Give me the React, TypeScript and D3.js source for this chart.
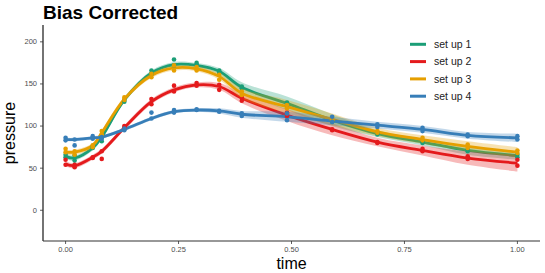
import * as d3 from "d3";

const W = 545, H = 273;
const m = { top: 25, right: 5, bottom: 32, left: 43 };

const times = [0, 0.02, 0.06, 0.08, 0.13, 0.19, 0.24, 0.29, 0.34, 0.39, 0.49, 0.59, 0.69, 0.79, 0.89, 1.0];
const seriesNames = ["set up 1", "set up 2", "set up 3", "set up 4"];
const colors = ["#1B9E77", "#E41A1C", "#E69F00", "#377EB8"];

// smoothed fit per series
const fit1 = [64, 62, 74, 87, 131, 163, 173, 172, 165, 146, 127, 107, 91, 81, 71, 65];
const fit2 = [55, 53, 63, 70, 98, 129, 143, 149, 147, 133, 113, 96, 81, 71, 62, 56];
const fit3 = [69, 69, 77, 92, 132, 160, 169, 168, 159, 139, 123, 108, 93, 84, 76, 69];
const fit4 = [84, 84, 86, 87, 96, 109, 117, 119, 118, 114, 111, 106, 101, 96, 89, 86];

// ribbon half widths
const se1 = [3, 3, 3, 3, 3, 3, 3, 3, 4, 6, 8, 7, 4, 4, 5, 5];
const se2 = [3, 3, 3, 3, 3, 3, 3, 3, 4, 6, 7, 7, 5, 6, 8, 10];
const se3 = [3, 3, 3, 3, 3, 3, 3, 3, 4, 6, 8, 7, 5, 5, 6, 6];
const se4 = [2, 2, 2, 2, 2, 2, 2, 2, 3, 4, 6, 5, 4, 4, 4, 5];

// observations (two replicates per time)
const obs1a = [66, 65, 76, 87, 131, 166, 179, 175, 166, 147, 128, 107, 92, 82, 72, 66];
const obs1b = [63, 59, 74, 82, 129, 162, 172, 173, 163, 145, 125, 105, 90, 80, 70, 63];
const obs2a = [60, 54, 63, 70, 100, 132, 148, 151, 149, 134, 116, 96, 81, 73, 64, 60];
const obs2b = [54, 51, 62, 61, 98, 126, 141, 148, 143, 130, 112, 95, 80, 70, 61, 53];
const obs3a = [73, 70, 77, 94, 134, 162, 172, 170, 161, 141, 125, 108, 94, 86, 78, 71];
const obs3b = [69, 66, 75, 90, 131, 158, 166, 166, 155, 137, 121, 107, 92, 83, 74, 68];
const obs4a = [86, 84, 88, 87, 97, 116, 119, 120, 118, 115, 115, 111, 102, 98, 90, 88];
const obs4b = [83, 77, 85, 85, 95, 109, 116, 119, 117, 112, 107, 105, 99, 94, 88, 84];

const fits = [fit1, fit2, fit3, fit4];
const ses = [se1, se2, se3, se4];
const obsA = [obs1a, obs2a, obs3a, obs4a];
const obsB = [obs1b, obs2b, obs3b, obs4b];

const xTicks = [0, 0.25, 0.5, 0.75, 1.0];
const yTicks = [0, 50, 100, 150, 200];

export default function App() {
  const iW = W - m.left - m.right;
  const iH = H - m.top - m.bottom;
  const x = d3.scaleLinear().domain([-0.05, 1.05]).range([0, iW]);
  const y = d3.scaleLinear().domain([-36.5, 220]).range([iH, 0]);

  const line = d3.line<number>().x((_, i) => x(times[i])).y(d => y(d)).curve(d3.curveCatmullRom);

  return (
    <svg width={W} height={H} style={{ position: "absolute", left: 0, top: 0, fontFamily: "Liberation Sans, Arial, sans-serif" }}>
      <rect width={W} height={H} fill="#fff" />
      <text x={43} y={19} fontSize={19} fontWeight="bold" fill="#000">Bias Corrected</text>
      <g transform={`translate(${m.left},${m.top})`}>
        {fits.map((f, s) => {
          const area = d3.area<number>()
            .x((_, i) => x(times[i]))
            .y0((d, i) => y(d - ses[s][i]))
            .y1((d, i) => y(d + ses[s][i]))
            .curve(d3.curveCatmullRom);
          return (
            <g key={s}>
              <path d={area(f) ?? ""} fill={colors[s]} opacity={0.3} />
              <path d={line(f) ?? ""} fill="none" stroke={colors[s]} strokeWidth={2.8} />
            </g>
          );
        })}
        {obsA.map((arr, s) => (
          <g key={"p" + s} fill={colors[s]}>
            {arr.map((v, i) => <circle key={"a" + i} cx={x(times[i])} cy={y(v)} r={2.3} />)}
            {obsB[s].map((v, i) => <circle key={"b" + i} cx={x(times[i])} cy={y(v)} r={2.3} />)}
          </g>
        ))}

        {/* axes */}
        <line x1={0} x2={0} y1={0} y2={iH} stroke="#000" strokeWidth={1.1} />
        <line x1={0} x2={iW} y1={iH} y2={iH} stroke="#333" strokeWidth={1.1} />
        {yTicks.map(t => (
          <g key={t} transform={`translate(0,${y(t)})`}>
            <line x1={-3} x2={0} stroke="#333" strokeWidth={0.8} />
            <text x={-6} dy="0.32em" textAnchor="end" fontSize={7.5} fill="#4d4d4d">{t}</text>
          </g>
        ))}
        {xTicks.map(t => (
          <g key={t} transform={`translate(${x(t)},${iH})`}>
            <line y1={0} y2={3} stroke="#333" strokeWidth={0.8} />
            <text y={11} textAnchor="middle" fontSize={7.5} fill="#4d4d4d">{t.toFixed(2)}</text>
          </g>
        ))}
        <text x={iW / 2} y={iH + 28} textAnchor="middle" fontSize={16} fill="#000">time</text>
        <text transform={`translate(${-28},${iH / 2}) rotate(-90)`} textAnchor="middle" fontSize={16} fill="#000">pressure</text>

        {/* legend */}
        {seriesNames.map((n, i) => (
          <g key={n} transform={`translate(${410 - m.left},${44.3 - m.top + i * 17.3})`}>
            <line x1={0} x2={16} stroke={colors[i]} strokeWidth={3} />
            <text x={24} dy="0.35em" fontSize={10.5} fill="#222">{n}</text>
          </g>
        ))}
      </g>
    </svg>
  );
}
